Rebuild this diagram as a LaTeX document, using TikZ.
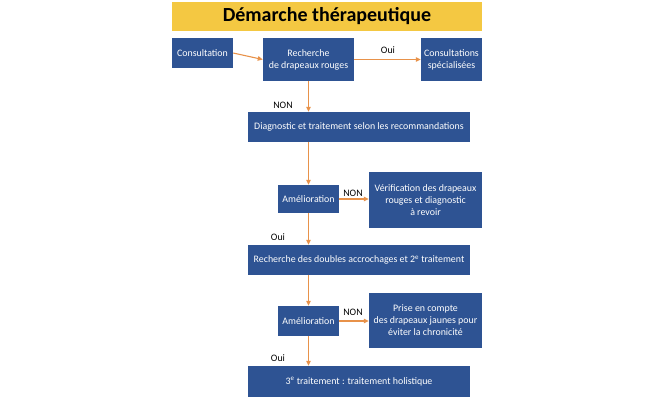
\documentclass[tikz,border=0pt]{standalone}
\usepackage{fontspec}
\setmainfont{Carlito}
\usetikzlibrary{arrows.meta}
\definecolor{boxblue}{HTML}{2E5393}
\definecolor{arrorange}{HTML}{E8924A}
\definecolor{titleyellow}{HTML}{F4C842}
\begin{document}
\begin{tikzpicture}[x=1pt,y=-1pt,
  box/.style={fill=boxblue,text=white,inner sep=0pt,align=center,font=\fontsize{9.9}{12}\selectfont},
  arr/.style={draw=arrorange,line width=1.1pt,-{Triangle[length=5pt,width=4.5pt]}},
  lbl/.style={font=\fontsize{9.9}{12}\selectfont,inner sep=0pt}]
\useasboundingbox (0,0) rectangle (655,400);
\node[fill=titleyellow,minimum width=310pt,minimum height=29pt,inner sep=0pt,font=\fontsize{20}{22}\selectfont\bfseries] (title) at (327,16.5) {Démarche thérapeutique};
\node[box,minimum width=61pt,minimum height=30pt] (cons) at (202.5,53) {Consultation};
\node[box,minimum width=91pt,minimum height=43pt] (rech) at (308.5,59.5) {Recherche\\de drapeaux rouges};
\node[box,minimum width=61pt,minimum height=43pt] (spec) at (451.5,59.5) {Consultations\\spécialisées};
\node[box,minimum width=222pt,minimum height=30pt] (diag) at (359,127) {Diagnostic et traitement selon les recommandations};
\node[box,minimum width=61pt,minimum height=28pt] (am1) at (308.5,199) {Amélioration};
\node[box,minimum width=113pt,minimum height=56pt] (verif) at (425.5,200) {Vérification des drapeaux\\rouges et diagnostic\\à revoir};
\node[box,minimum width=222pt,minimum height=30pt] (dbl) at (359,260) {Recherche des doubles accrochages et 2\textsuperscript{e} traitement};
\node[box,minimum width=61pt,minimum height=30pt] (am2) at (308.5,321) {Amélioration};
\node[box,minimum width=113pt,minimum height=55pt] (prise) at (425.5,320.5) {Prise en compte\\des drapeaux jaunes pour\\éviter la chronicité};
\node[box,minimum width=222pt,minimum height=31pt] (trois) at (359,381.5) {3\textsuperscript{e} traitement : traitement holistique};
\draw[arr] (cons.east) -- (rech.west);
\draw[arr] (rech.east) -- (spec.west);
\draw[arr] (rech.south) -- (rech.south |- diag.north);
\draw[arr] (rech.south |- diag.south) -- (am1.north);
\draw[arr] (am1.east) -- (am1.east -| verif.west);
\draw[arr] (am1.south) -- (am1.south |- dbl.north);
\draw[arr] (am1.south |- dbl.south) -- (am2.north);
\draw[arr] (am2.east) -- (am2.east -| prise.west);
\draw[arr] (am2.south) -- (am2.south |- trois.north);
\node[lbl] (l1) at (388,50) {Oui};
\node[lbl] (l2) at (283,105) {NON};
\node[lbl] (l3) at (353,193) {NON};
\node[lbl] (l4) at (278,237) {Oui};
\node[lbl] (l5) at (353,312) {NON};
\node[lbl] (l6) at (278,358) {Oui};
\end{tikzpicture}
\end{document}
